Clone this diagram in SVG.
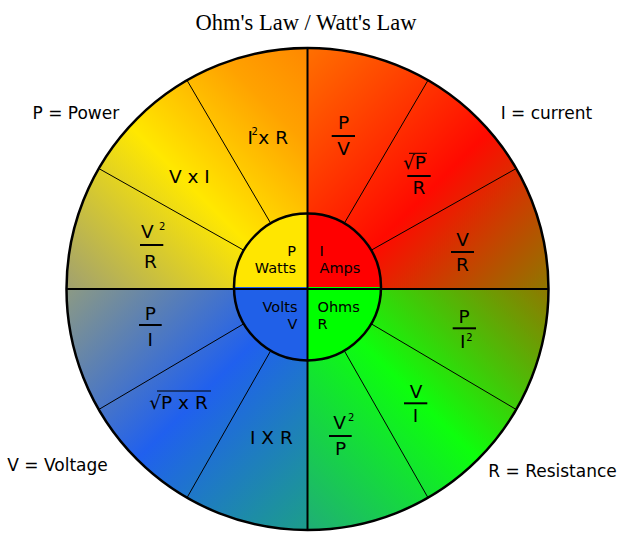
<svg xmlns="http://www.w3.org/2000/svg" width="640" height="547" viewBox="0 0 640 547">
<style>
.t{font-family:"DejaVu Sans",sans-serif;fill:#000}
.f{font-size:18.5px}
.c{text-anchor:middle}
.s{font-size:10px}
.side{font-size:17px}
.in{font-size:14.5px}
.e{text-anchor:end}
.bar{stroke:#000;stroke-width:2}
.vin{stroke:#000;stroke-width:1}
.thin{stroke:#000;stroke-width:1;fill:none}
.thick{stroke:#000;stroke-width:2;fill:none}
</style>
<defs>
<linearGradient id="gTR" gradientUnits="userSpaceOnUse" x1="307.5" y1="48" x2="548.5" y2="289">
<stop offset="0" stop-color="#ff7000"/><stop offset="0.55" stop-color="#ff0a00"/><stop offset="1" stop-color="#8f7800"/>
</linearGradient>
<linearGradient id="gBR" gradientUnits="userSpaceOnUse" x1="548.5" y1="289" x2="307.5" y2="530">
<stop offset="0" stop-color="#8f7800"/><stop offset="0.5" stop-color="#0dff0d"/><stop offset="1" stop-color="#1fae76"/>
</linearGradient>
<linearGradient id="gBL" gradientUnits="userSpaceOnUse" x1="307.5" y1="530" x2="66.5" y2="289">
<stop offset="0" stop-color="#1c9e8a"/><stop offset="0.5" stop-color="#2060ee"/><stop offset="1" stop-color="#8c9a84"/>
</linearGradient>
<linearGradient id="gTL" gradientUnits="userSpaceOnUse" x1="66.5" y1="289" x2="307.5" y2="48">
<stop offset="0" stop-color="#a0a070"/><stop offset="0.47" stop-color="#ffe800"/><stop offset="0.8" stop-color="#ffa200"/><stop offset="1" stop-color="#ff8800"/>
</linearGradient>
</defs>

<text class="c" x="306" y="30" style="font-family:'Liberation Serif',serif;font-size:22.5px">Ohm's Law / Watt's Law</text>

<g id="ring">
<path d="M307.5 289 L307.5 48 A241 241 0 0 1 548.5 289 Z" fill="url(#gTR)"/>
<path d="M307.5 289 L548.5 289 A241 241 0 0 1 307.5 530 Z" fill="url(#gBR)"/>
<path d="M307.5 289 L307.5 530 A241 241 0 0 1 66.5 289 Z" fill="url(#gBL)"/>
<path d="M307.5 289 L66.5 289 A241 241 0 0 1 307.5 48 Z" fill="url(#gTL)"/>
</g>

<g id="hub">
<path d="M307.5 287 L307.5 213.5 A73.5 73.5 0 0 1 381 287 Z" fill="#ff0000"/>
<path d="M307.5 287 L381 287 A73.5 73.5 0 0 1 307.5 360.5 Z" fill="#00ff00"/>
<path d="M307.5 287 L307.5 360.5 A73.5 73.5 0 0 1 234 287 Z" fill="#2060e8"/>
<path d="M307.5 287 L234 287 A73.5 73.5 0 0 1 307.5 213.5 Z" fill="#ffe600"/>
</g>

<g id="connectors">
<line class="thin" x1="344.25" y1="223.35" x2="428" y2="80.29"/>
<line class="thin" x1="371.15" y1="250.25" x2="516.21" y2="168.5"/>
<line class="thin" x1="371.15" y1="323.75" x2="516.21" y2="409.5"/>
<line class="thin" x1="344.25" y1="350.65" x2="428" y2="497.71"/>
<line class="thin" x1="270.75" y1="350.65" x2="187" y2="497.71"/>
<line class="thin" x1="243.85" y1="323.75" x2="98.79" y2="409.5"/>
<line class="thin" x1="243.85" y1="250.25" x2="98.79" y2="168.5"/>
<line class="thin" x1="270.75" y1="223.35" x2="187" y2="80.29"/>
<line class="thick" x1="307.5" y1="48" x2="307.5" y2="530"/>
<line class="thick" x1="66.5" y1="289" x2="548.5" y2="289"/>
<circle class="thick" cx="307.5" cy="287" r="73.5" style="stroke-width:2.5"/>
<circle class="thick" cx="307.5" cy="289" r="241" style="stroke-width:2.5"/>
</g>

<g id="hub-labels" class="t in">
<text class="e" x="296" y="255.5">P</text>
<text class="e" x="296" y="272.5">Watts</text>
<text x="319.5" y="255.5">I</text>
<text x="319.5" y="272.5">Amps</text>
<text class="e" x="297.5" y="312">Volts</text>
<text class="e" x="297.5" y="329">V</text>
<text x="317.5" y="312">Ohms</text>
<text x="317.5" y="329">R</text>
</g>

<g id="seg-I2R" class="t f">
<text x="247.5" y="144.3">I</text>
<text class="s" x="251.5" y="135">2</text>
<text x="258.3" y="144.3">x R</text>
</g>
<g id="seg-VxI" class="t f"><text x="169" y="183.3">V x I</text></g>
<g id="seg-V2R" class="t f">
<text x="141" y="238.3">V</text>
<text class="s" x="159" y="230">2</text>
<line class="bar" x1="140" y1="245" x2="163.3" y2="245"/>
<text class="c" x="150.5" y="268.3">R</text>
</g>
<g id="seg-PV" class="t f">
<text class="c" x="343.5" y="129.3">P</text>
<line class="bar" x1="331.7" y1="136" x2="355" y2="136"/>
<text class="c" x="343.5" y="155">V</text>
</g>
<g id="seg-sqrtPR" class="t f">
<text x="403" y="169.3">√P</text>
<line class="vin" x1="409" y1="153.3" x2="427" y2="153.3"/>
<line class="bar" x1="407.3" y1="176" x2="430.7" y2="176"/>
<text class="c" x="419" y="194">R</text>
</g>
<g id="seg-VR" class="t f">
<text class="c" x="462.5" y="246">V</text>
<line class="bar" x1="451" y1="252" x2="474" y2="252"/>
<text class="c" x="462.5" y="271">R</text>
</g>
<g id="seg-PI2" class="t f">
<text class="c" x="464" y="323.3">P</text>
<line class="bar" x1="452.7" y1="328.3" x2="476" y2="328.3"/>
<text class="c" x="462.7" y="348.3">I</text>
<text class="s" x="466.3" y="341">2</text>
</g>
<g id="seg-VI" class="t f">
<text class="c" x="416" y="397.7">V</text>
<line class="bar" x1="404" y1="403.3" x2="427.3" y2="403.3"/>
<text class="c" x="415.5" y="422.3">I</text>
</g>
<g id="seg-V2P" class="t f">
<text class="c" x="339.7" y="429.3">V</text>
<text class="s" x="348" y="420.5">2</text>
<line class="bar" x1="329" y1="436" x2="351.7" y2="436"/>
<text class="c" x="340.5" y="455">P</text>
</g>
<g id="seg-IXR" class="t f"><text x="250" y="444">I X R</text></g>
<g id="seg-sqrtPxR" class="t f">
<text x="149.3" y="409">√P x R</text>
<line class="vin" x1="157" y1="391" x2="211" y2="391"/>
</g>
<g id="seg-PI" class="t f">
<text class="c" x="150.3" y="320">P</text>
<line class="bar" x1="139" y1="325" x2="161.7" y2="325"/>
<text class="c" x="150.3" y="346">I</text>
</g>

<g id="legend" class="t side">
<text x="32.5" y="118.7">P = Power</text>
<text x="500.7" y="118.7">I = current</text>
<text x="7.3" y="471">V = Voltage</text>
<text x="488.3" y="476.5">R = Resistance</text>
</g>
</svg>
